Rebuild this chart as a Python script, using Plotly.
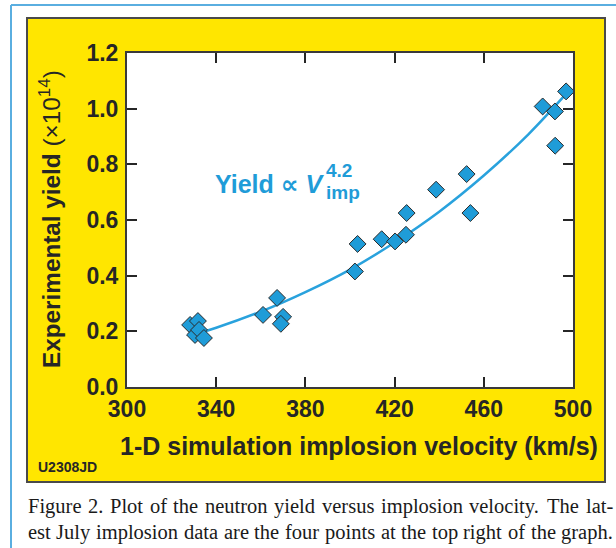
import plotly.graph_objects as go

# ---- data ----
velocity = [328.3, 331.8, 330.5, 332.3, 334.5, 361.0, 367.3, 370.0, 369.0,
            402.2, 403.4, 414.2, 420.2, 425.1, 425.4, 438.6, 452.3, 454.0,
            486.4, 491.9, 492.0, 496.9]
yield_exp = [0.223, 0.237, 0.187, 0.205, 0.176, 0.259, 0.320, 0.252, 0.227,
             0.415, 0.514, 0.531, 0.523, 0.547, 0.625, 0.709, 0.765, 0.625,
             1.008, 0.990, 0.867, 1.062]
fit_velocity = [328, 340, 360, 380, 400, 420, 440, 460, 480, 499]
fit_yield = [0.184, 0.213, 0.271, 0.341, 0.422, 0.519, 0.630, 0.760, 0.908, 1.072]
x_ticks = [300, 340, 380, 420, 460, 500]
y_ticks = [0.0, 0.2, 0.4, 0.6, 0.8, 1.0, 1.2]
caption_lines = [
    "Figure 2. Plot of the neutron yield versus implosion velocity. The lat-",
    "est July implosion data are the four points at the top right of the graph.",
]

W, H = 616, 548
L, R, T, B = 127, 573, 53, 387   # plot area in pixels
PW, PH = R - L, B - T

def px(x):
    return (x - L) / PW

def py(y):
    return (B - y) / PH

SANS = "Liberation Sans, Arial, Helvetica, sans-serif"
SERIF = "Liberation Serif, Times New Roman, serif"
BLUE = "#1f9cd8"
DARK = "#262626"

fig = go.Figure()
fig.add_trace(go.Scatter(
    x=fit_velocity, y=fit_yield, mode="lines", line_shape="spline",
    line=dict(color="#29a2dd", width=2.5), hoverinfo="skip", showlegend=False))
fig.add_trace(go.Scatter(
    x=velocity, y=yield_exp, mode="markers",
    marker=dict(symbol="diamond", size=13, color=BLUE,
                line=dict(color="#2b2b2b", width=1)),
    showlegend=False))

axis_common = dict(
    showgrid=False, zeroline=False, ticks="inside", ticklen=10, tickwidth=1.5,
    tickcolor=DARK, showline=True, linecolor="#3a3a3a", linewidth=2,
    mirror="ticks",
    tickfont=dict(family=SANS, size=23, color=DARK, weight="bold"),
)
fig.update_xaxes(range=[300, 500], tickvals=x_ticks,
                 ticktext=[str(v) for v in x_ticks], **axis_common)
fig.update_yaxes(range=[0, 1.2], tickvals=y_ticks,
                 ticktext=[f"{v:.1f}" for v in y_ticks], ticklabelstandoff=2,
                 **axis_common)

shapes = [
    # yellow panel
    dict(type="rect", xref="paper", yref="paper", layer="below",
         x0=px(27), x1=px(605), y0=py(482), y1=py(18),
         fillcolor="#ffe600", line=dict(color="#4a4a4a", width=2)),
    # white plot area
    dict(type="rect", xref="paper", yref="paper", layer="below",
         x0=0, x1=1, y0=0, y1=1, fillcolor="white", line=dict(width=0)),
    # blue frame lines
    dict(type="line", xref="paper", yref="paper", x0=px(11), x1=px(11),
         y0=py(5), y1=py(548), line=dict(color="#5aaee0", width=2)),
    dict(type="line", xref="paper", yref="paper", x0=px(11), x1=px(616),
         y0=py(5), y1=py(5), line=dict(color="#5aaee0", width=2)),
]

annotations = [
    dict(text="Experimental yield <span style='font-weight:normal'>(×10<sup>14</sup>)</span>",
         xref="paper", yref="paper", x=px(50), y=py(219), textangle=-90,
         showarrow=False, xanchor="center", yanchor="middle",
         font=dict(family=SANS, size=24.3, color=DARK, weight="bold")),
    dict(text="1-D simulation implosion velocity (km/s)",
         xref="paper", yref="paper", x=px(359), y=py(446),
         showarrow=False, xanchor="center", yanchor="middle",
         font=dict(family=SANS, size=25, color=DARK, weight="bold")),
    dict(text="U2308JD", xref="paper", yref="paper", x=px(36), y=py(467),
         showarrow=False, xanchor="left", yanchor="middle",
         font=dict(family=SANS, size=14, color=DARK, weight="bold")),
    dict(text="Yield <span style='font-family:DejaVu Sans'>∝</span> <i>V</i>",
         xref="paper", yref="paper", x=px(327), y=py(184),
         showarrow=False, xanchor="right", yanchor="middle",
         font=dict(family=SANS, size=25, color=BLUE, weight="bold")),
    dict(text="4.2", xref="paper", yref="paper", x=px(325), y=py(170),
         showarrow=False, xanchor="left", yanchor="middle", borderpad=0,
         font=dict(family=SANS, size=19, color=BLUE, weight="bold")),
    dict(text="imp", xref="paper", yref="paper", x=px(325), y=py(192),
         showarrow=False, xanchor="left", yanchor="middle", borderpad=0,
         font=dict(family=SANS, size=19, color=BLUE, weight="bold")),
]

# ---- justified caption (Times-metric word widths, per 1000 em) ----
TIMES = {
    'a': 444, 'b': 500, 'c': 444, 'd': 500, 'e': 444, 'f': 333, 'g': 500,
    'h': 500, 'i': 278, 'j': 278, 'k': 500, 'l': 278, 'm': 778, 'n': 500,
    'o': 500, 'p': 500, 'q': 500, 'r': 333, 's': 389, 't': 278, 'u': 500,
    'v': 500, 'w': 722, 'x': 500, 'y': 500, 'z': 444, 'F': 556, 'J': 389,
    'P': 556, 'T': 611, '2': 500, '.': 250, '-': 333,
}
CAP_SIZE = 20.5
CAP_LEFT, CAP_RIGHT = 27, 612
cap_font = dict(family=SERIF, size=CAP_SIZE, color="#1a1a1a")

def word_w(w):
    return sum(TIMES.get(c, 500) for c in w) / 1000 * CAP_SIZE

for line, ycen in zip(caption_lines, [506, 532]):
    words = line.split(" ")
    widths = [word_w(w) for w in words]
    gap = (CAP_RIGHT - CAP_LEFT - sum(widths)) / (len(words) - 1)
    xpos = CAP_LEFT
    for w, wd in zip(words, widths):
        annotations.append(dict(
            text=w, xref="paper", yref="paper", x=px(xpos), y=py(ycen),
            showarrow=False, xanchor="left", yanchor="middle",
            font=cap_font, borderpad=0))
        xpos += wd + gap

fig.update_layout(
    width=W, height=H,
    margin=dict(l=L, r=W - R, t=T, b=H - B, pad=0),
    paper_bgcolor="white", plot_bgcolor="rgba(0,0,0,0)",
    shapes=shapes, annotations=annotations, showlegend=False,
)

fig.write_html("out.html", config={"displayModeBar": False},
               post_script="document.body.style.margin='0';document.body.style.overflow='hidden';")
